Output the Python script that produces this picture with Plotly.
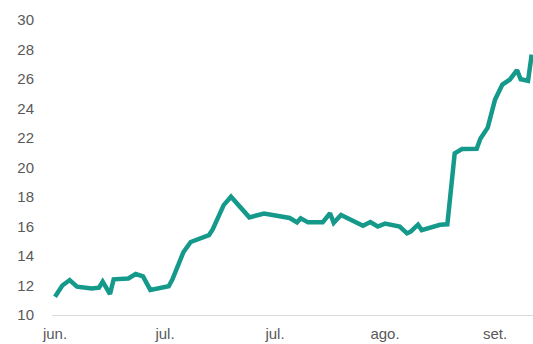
import plotly.graph_objects as go

# Daily observations (dates) and their values
dates = [
    "2021-06-01", "2021-06-03", "2021-06-05", "2021-06-07", "2021-06-11",
    "2021-06-13", "2021-06-14", "2021-06-16", "2021-06-17", "2021-06-21",
    "2021-06-23", "2021-06-25", "2021-06-27", "2021-07-02", "2021-07-03",
    "2021-07-06", "2021-07-08", "2021-07-13", "2021-07-14", "2021-07-17",
    "2021-07-19", "2021-07-24", "2021-07-28", "2021-08-04", "2021-08-06",
    "2021-08-07", "2021-08-09", "2021-08-13", "2021-08-15", "2021-08-16",
    "2021-08-18", "2021-08-24", "2021-08-26", "2021-08-28", "2021-08-30",
    "2021-09-03", "2021-09-05", "2021-09-06", "2021-09-08", "2021-09-09",
    "2021-09-14", "2021-09-16", "2021-09-18", "2021-09-20", "2021-09-24",
    "2021-09-25", "2021-09-27", "2021-09-29", "2021-10-01", "2021-10-03",
    "2021-10-05", "2021-10-06", "2021-10-08", "2021-10-09",
]
values = [
    11.24, 12.00, 12.37, 11.92, 11.80,
    11.85, 12.26, 11.42, 12.42, 12.48,
    12.78, 12.62, 11.70, 11.95, 12.40,
    14.25, 14.95, 15.42, 15.80, 17.45,
    18.02, 16.62, 16.88, 16.58, 16.28,
    16.55, 16.28, 16.28, 16.90, 16.25,
    16.78, 16.05, 16.30, 16.00, 16.20,
    16.00, 15.54, 15.65, 16.12, 15.76,
    16.12, 16.15, 20.96, 21.25, 21.27,
    21.95, 22.70, 24.60, 25.62, 25.95,
    26.60, 25.98, 25.88, 27.65,
]

# Axis ticks
x_tick_dates = ["2021-06-01", "2021-07-01", "2021-07-31", "2021-08-30", "2021-09-29"]
x_tick_labels = ["jun.", "jul.", "jul.", "ago.", "set."]
y_ticks = [10, 12, 14, 16, 18, 20, 22, 24, 26, 28, 30]

LINE_COLOR = "#15998B"
TEXT_COLOR = "#595959"
FONT = "Liberation Sans, Arial, sans-serif"

fig = go.Figure(
    go.Scatter(
        x=dates,
        y=values,
        mode="lines",
        line=dict(color=LINE_COLOR, width=4.5),
        hoverinfo="x+y",
    )
)

fig.update_layout(
    width=533,
    height=344,
    margin=dict(l=52, r=0, t=20, b=29),
    paper_bgcolor="white",
    plot_bgcolor="white",
    showlegend=False,
    font=dict(family=FONT, size=15, color=TEXT_COLOR),
)

fig.update_xaxes(
    type="date",
    range=["2021-05-31 04:20", "2021-10-09 08:30"],
    tickvals=x_tick_dates,
    ticktext=x_tick_labels,
    showgrid=False,
    zeroline=False,
    showline=True,
    linecolor="#D9D9D9",
    linewidth=1,
    ticks="",
    ticklabelstandoff=5,
    tickfont=dict(family=FONT, size=15, color=TEXT_COLOR),
)

fig.update_yaxes(
    range=[10, 30],
    tickvals=y_ticks,
    showgrid=False,
    zeroline=False,
    showline=False,
    ticks="",
    ticklabelstandoff=17,
    tickfont=dict(family=FONT, size=15, color=TEXT_COLOR),
)

fig.write_html("out.html")
